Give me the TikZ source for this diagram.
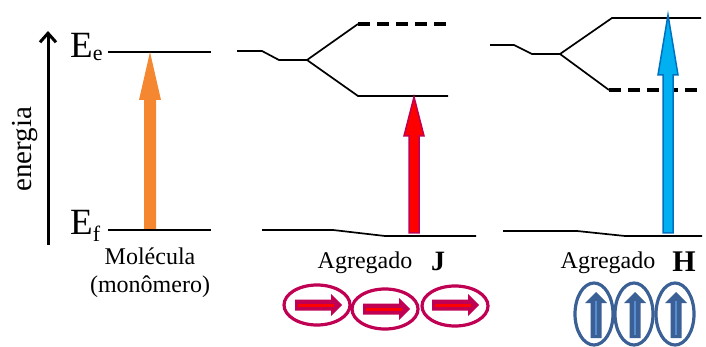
\documentclass[tikz,border=0pt]{standalone}
\usepackage{fontspec}
\setmainfont{Liberation Serif}
\usetikzlibrary{arrows.meta}
\definecolor{orangeA}{RGB}{245,135,48}
\definecolor{crim}{RGB}{192,0,82}
\definecolor{blueF}{RGB}{0,176,240}
\definecolor{blueD}{RGB}{0,112,192}
\definecolor{hblue}{RGB}{58,96,150}
\definecolor{hlight}{RGB}{85,140,210}
\tikzset{
  level/.style={line width=1.7pt,black},
  dlevel/.style={line width=3.6pt,black,dash pattern=on 12pt off 7pt},
  lbl/.style={inner sep=0pt,anchor=base,font=\fontsize{24}{26}\selectfont},
  jring/.style={draw=crim,line width=3.2pt},
  hring/.style={draw=hblue,line width=3.2pt},
}
\newcommand{\jarrow}[2]{%
  \fill[crim] (#1-23,#2-5.5) -- (#1+13,#2-5.5) -- (#1+13,#2-11) -- (#1+24,#2) -- (#1+13,#2+11) -- (#1+13,#2+5.5) -- (#1-23,#2+5.5) -- cycle;
  \draw[red,line width=3pt] (#1-20,#2) -- (#1+16,#2);}
\newcommand{\harrow}[2]{%
  \fill[hblue] (#1-5.5,#2+24) -- (#1-5.5,#2-11) -- (#1-11,#2-11) -- (#1,#2-22) -- (#1+11,#2-11) -- (#1+5.5,#2-11) -- (#1+5.5,#2+24) -- cycle;
  \draw[hlight,line width=2.5pt] (#1,#2+21) -- (#1,#2-13);}
\begin{document}
\begin{tikzpicture}[x=1pt,y=-1pt]
\useasboundingbox (0,0) rectangle (706,347);
% energy axis
\coordinate (ax0) at (48,245);
\coordinate (ax1) at (48,31);
\draw[line width=3pt,-{Straight Barb[length=9pt,width=16pt,line width=3pt]}] (ax0) -- (ax1);
\node[rotate=90,inner sep=0pt,font=\fontsize{29}{30}\selectfont] (en) at (25,149) {energia};
% monomer levels
\node[inner sep=0pt,anchor=base west,font=\fontsize{37}{38}\selectfont] (Ee) at (70,58) {E\raisebox{-3pt}{\fontsize{22}{22}\selectfont e}};
\node[inner sep=0pt,anchor=base west,font=\fontsize{37}{38}\selectfont] (Ef) at (70,235) {E\raisebox{-6pt}{\fontsize{22}{22}\selectfont f}};
\coordinate (e1) at (108,52); \coordinate (e2) at (211,52);
\coordinate (f1) at (108,230); \coordinate (f2) at (211,230);
\draw[level] (e1) -- (e2);
\draw[level] (f1) -- (f2);
\fill[orangeA] (144,229) -- (144,100) -- (139,100) -- (150,52) -- (161,100) -- (156,100) -- (156,229) -- cycle;
\node[lbl] (mol) at (150,265) {Molécula};
\node[lbl] (mon) at (150,292) {(monômero)};
% J aggregate
\coordinate (ja) at (237,51); \coordinate (jb) at (262,51); \coordinate (jc) at (279,60); \coordinate (jd) at (307,60);
\coordinate (ju) at (358,24); \coordinate (jl) at (358,96);
\coordinate (jue) at (448,24); \coordinate (jle) at (448,96);
\draw[level] (ja) -- (jb) -- (jc) -- (jd) -- (ju);
\draw[level] (jd) -- (jl) -- (jle);
\draw[dlevel] (ju) -- (jue);
\coordinate (jg1) at (262,230); \coordinate (jg2) at (333,230); \coordinate (jg3) at (385,236); \coordinate (jg4) at (476,236);
\draw[level] (jg1) -- (jg2) -- (jg3) -- (jg4);
\filldraw[fill=red,draw=crim,line width=1.5pt] (409,233) -- (409,136) -- (404,136) -- (414,97) -- (424,136) -- (419,136) -- (419,233) -- cycle;
\node[lbl] (agj) at (365,268) {Agregado};
\node[lbl,font=\fontsize{28}{30}\selectfont\bfseries] (J) at (438,270) {J};
\draw[jring] (317,305) ellipse [x radius=33,y radius=20];
\draw[jring] (385,309) ellipse [x radius=33,y radius=20];
\draw[jring] (455,306) ellipse [x radius=33,y radius=20];
\jarrow{318}{305}
\jarrow{386}{309}
\jarrow{455}{305}
% H aggregate
\coordinate (ha) at (490,45); \coordinate (hb) at (514,45); \coordinate (hc) at (532,54); \coordinate (hd) at (560,54);
\coordinate (hu) at (612,18); \coordinate (hl) at (609,90);
\coordinate (hue) at (701,18); \coordinate (hle) at (701,90);
\draw[level] (ha) -- (hb) -- (hc) -- (hd) -- (hu) -- (hue);
\draw[level] (hd) -- (hl);
\draw[dlevel] (hl) -- (hle);
\coordinate (hg1) at (503,231); \coordinate (hg2) at (577,231); \coordinate (hg3) at (625,236); \coordinate (hg4) at (702,236);
\draw[level] (hg1) -- (hg2) -- (hg3) -- (hg4);
\filldraw[fill=blueF,draw=blueD,line width=1.5pt] (663,233) -- (663,75) -- (658,75) -- (668,15) -- (678,75) -- (673,75) -- (673,233) -- cycle;
\node[lbl] (agh) at (608,269) {Agregado};
\node[lbl,font=\fontsize{30}{32}\selectfont\bfseries] (H) at (684,271) {H};
\draw[hring] (594,314) ellipse [x radius=19,y radius=31];
\draw[hring] (634,314) ellipse [x radius=19,y radius=31];
\draw[hring] (675,314) ellipse [x radius=19,y radius=31];
\harrow{596}{314}
\harrow{635}{314}
\harrow{676}{314}
\end{tikzpicture}
\end{document}
